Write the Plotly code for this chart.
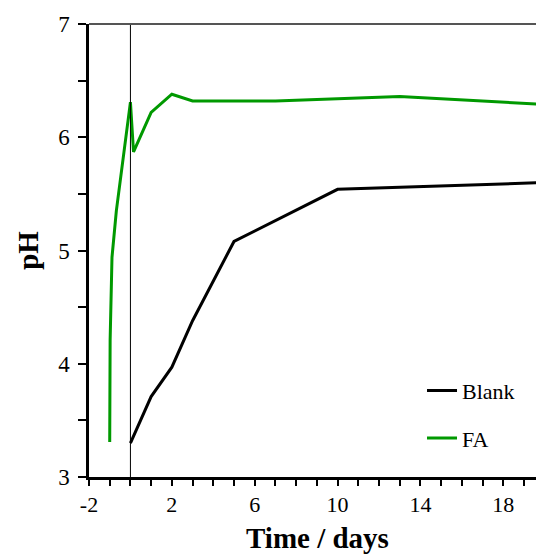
import plotly.graph_objects as go

# Data
blank_x = [0, 1, 2, 3, 5, 10, 20]
blank_y = [3.30, 3.71, 3.97, 4.38, 5.08, 5.54, 5.60]

fa_x = [-1.0, -0.98, -0.89, -0.68, 0, 0.15, 1, 2, 3, 7, 13, 20]
fa_y = [3.31, 4.21, 4.94, 5.35, 6.31, 5.87, 6.22, 6.38, 6.32, 6.32, 6.36, 6.29]

x_tickvals = [-2, 2, 6, 10, 14, 18]
x_ticktext = ["-2", "2", "6", "10", "14", "18"]
y_tickvals = [3, 4, 5, 6, 7]

FONT = "Liberation Serif"

fig = go.Figure()
fig.add_trace(go.Scatter(x=blank_x, y=blank_y, mode="lines", name="Blank",
                         line=dict(color="#000000", width=3), legendgroup="a"))
fig.add_trace(go.Scatter(x=fa_x, y=fa_y, mode="lines", name="FA",
                         line=dict(color="#009900", width=3), legendgroup="b"))

# vertical reference line at t = 0
fig.add_shape(type="line", xref="x", yref="y", x0=0, x1=0, y0=3, y1=7,
              line=dict(color="#000000", width=1))
# top frame line
fig.add_shape(type="line", xref="paper", yref="paper", x0=0, x1=1, y0=1, y1=1,
              line=dict(color="#555555", width=2))

# axis titles
fig.add_annotation(text="<b>Time / days</b>", xref="paper", yref="paper",
                   x=0.512, y=-0.135, xanchor="center", yanchor="middle",
                   showarrow=False, font=dict(family=FONT, size=29, color="#000000"))
fig.add_annotation(text="<b>pH</b>", xref="paper", yref="paper",
                   x=-0.138, y=0.5, xanchor="center", yanchor="middle", textangle=-90,
                   showarrow=False, font=dict(family=FONT, size=29, color="#000000"))

fig.update_layout(
    width=536, height=554,
    margin=dict(l=89, r=0, t=24, b=77),
    paper_bgcolor="white", plot_bgcolor="white",
    font=dict(family=FONT, size=22, color="#000000"),
    showlegend=True,
    legend=dict(x=0.745, y=0.237, xanchor="left", yanchor="top",
                bgcolor="rgba(0,0,0,0)", font=dict(family=FONT, size=22),
                tracegroupgap=16, traceorder="grouped", itemwidth=30),
    xaxis=dict(range=[-2, 19.58], tickvals=x_tickvals, ticktext=x_ticktext,
               ticks="outside", ticklen=6, ticklabelstandoff=0,
               tickwidth=1.5, tickcolor="#000000",
               showline=True, linecolor="#000000", linewidth=2.5,
               showgrid=False, zeroline=False,
               minor=dict(dtick=1, tick0=0, ticks="outside", ticklen=6,
                          tickwidth=1.5, tickcolor="#000000", showgrid=False),
               tickfont=dict(family=FONT, size=22)),
    yaxis=dict(range=[3, 7], tickvals=y_tickvals, ticks="outside", ticklen=8,
               ticklabelstandoff=4,
               tickwidth=1.5, tickcolor="#000000",
               showline=True, linecolor="#000000", linewidth=2.5,
               showgrid=False, zeroline=False,
               minor=dict(dtick=0.5, tick0=0, ticks="outside", ticklen=8,
                          tickwidth=1.5, tickcolor="#000000", showgrid=False),
               tickfont=dict(family=FONT, size=23)),
)

fig.write_html(
    "out.html",
    config={"displayModeBar": False},
    post_script="document.body.style.margin='0';document.body.style.overflow='hidden';",
)
